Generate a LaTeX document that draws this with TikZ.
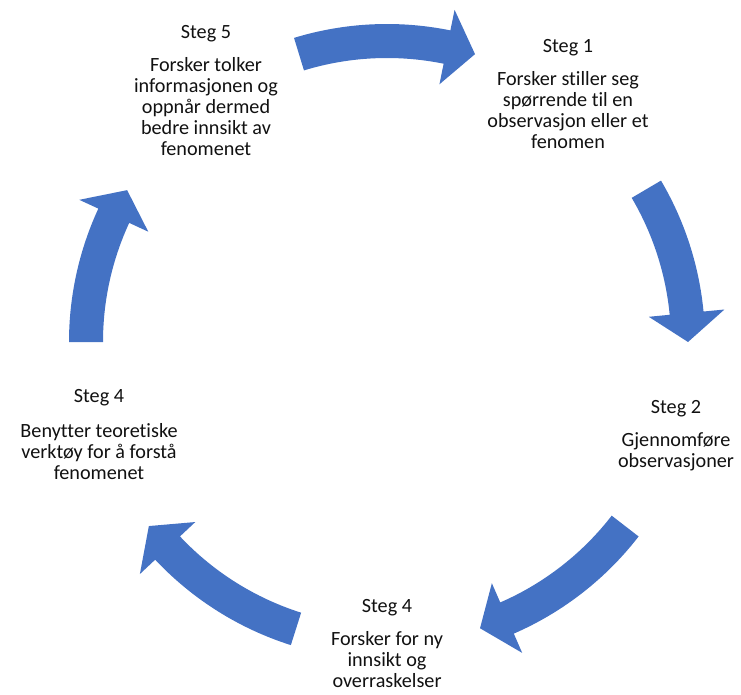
\documentclass[tikz,border=0pt]{standalone}
\usepackage{fontspec}
\setmainfont{Carlito}[Ligatures=NoCommon]
\usetikzlibrary{calc}
\definecolor{arrowblue}{HTML}{4472C4}
\definecolor{txtcol}{HTML}{111111}
\tikzset{
  steptext/.style={align=center, inner sep=0pt, anchor=north,
    font=\fontsize{20.2}{21}\selectfont, text=txtcol},
  cyclefill/.style={fill=arrowblue, draw=none}
}
% tail angle, tip angle (clockwise arrow around (c))
\newcommand\blockarc[2]{%
  \pgfmathsetmacro\baseang{#2+5.5}%
  \fill[cyclefill] ($(c)+(#1:318)$) arc[start angle=#1, end angle=\baseang, radius=318]
    -- ($(c)+(\baseang:339)$) -- ($(c)+(#2:301)$) -- ($(c)+(\baseang:263)$)
    -- ($(c)+(\baseang:284)$) arc[start angle=\baseang, end angle=#1, radius=284] -- cycle;
}
\begin{document}
\begin{tikzpicture}[x=1pt,y=1pt]
\useasboundingbox (0,-695) rectangle (741,0);
\coordinate (c) at (387,-342);

\blockarc{107}{73}
\blockarc{30.5}{0}
\blockarc{-37.7}{-72}
\blockarc{-107.6}{-142.3}
\blockarc{180}{149.7}

\node[steptext] (s5) at (206,-25.3) {Steg 5\\[12pt]Forsker tolker\\informasjonen og\\oppnår dermed\\bedre innsikt av\\fenomenet};
\node[steptext] (s1) at (568,-39) {Steg 1\\[12pt]Forsker stiller seg\\spørrende til en\\observasjon eller et\\fenomen};
\node[steptext] (s2) at (676,-400) {Steg 2\\[12pt]Gjennomføre\\observasjoner};
\node[steptext] (s4b) at (387,-599) {Steg 4\\[12pt]Forsker for ny\\innsikt og\\overraskelser};
\node[steptext] (s4l) at (99,-389) {Steg 4\\[14pt]Benytter teoretiske\\verktøy for å forstå\\fenomenet};
\end{tikzpicture}
\end{document}
